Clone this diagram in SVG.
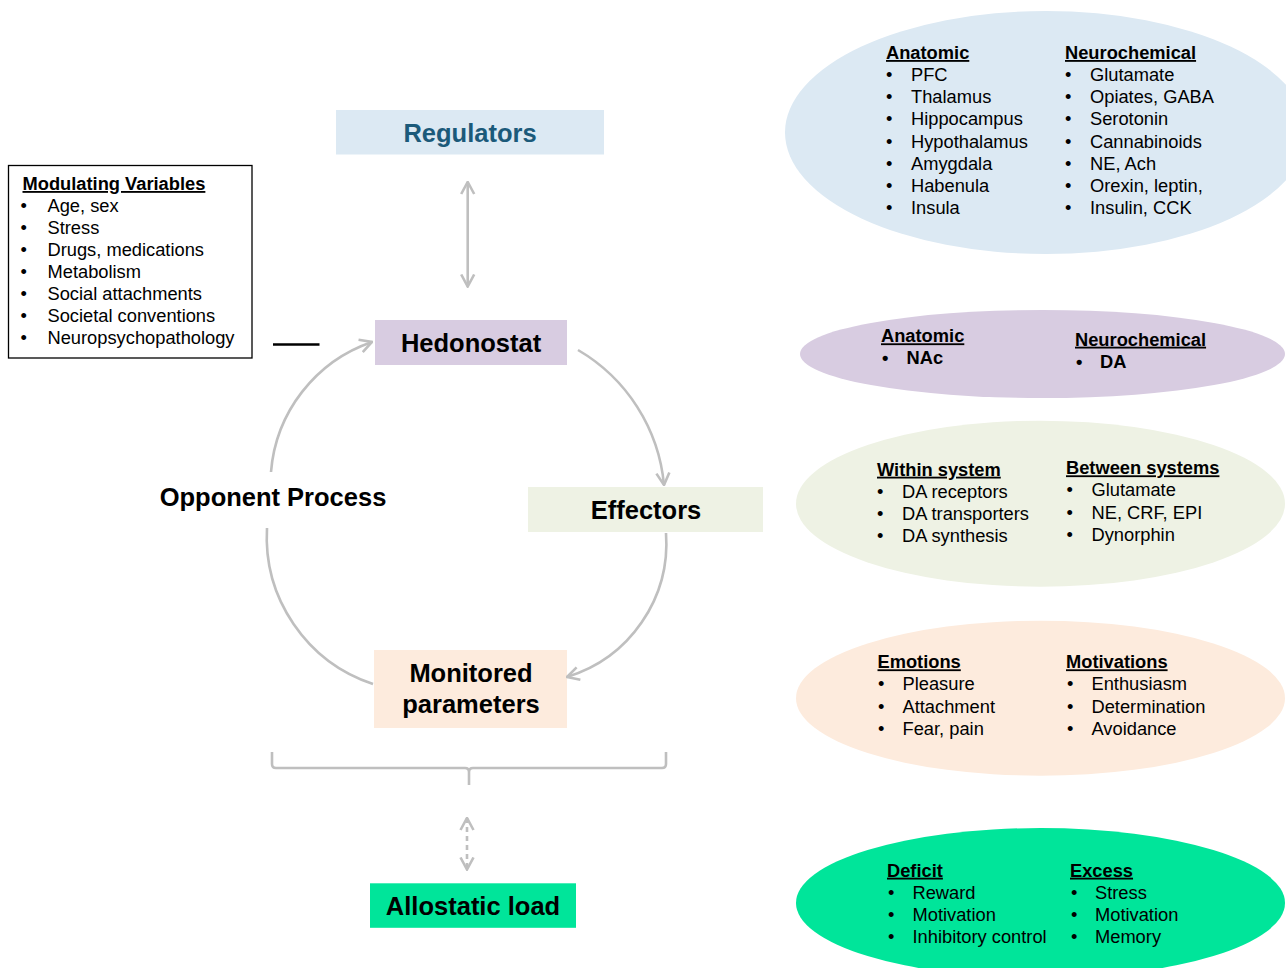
<svg xmlns="http://www.w3.org/2000/svg" width="1286" height="968" viewBox="0 0 1286 968">
<style>
text{font-family:"Liberation Sans",Arial,sans-serif;fill:#000}
.big{font-size:25.5px;font-weight:bold;text-anchor:middle}
.hd{font-size:18.3px;font-weight:bold;text-decoration:underline}
.it{font-size:18.3px}
.itb{font-size:18.3px;font-weight:bold}
.conn{fill:none;stroke:#BFBFBF;stroke-width:2.6}
</style>
<defs>
<marker id="ah" viewBox="0 0 14 16" refX="13" refY="8" markerWidth="14" markerHeight="16" markerUnits="userSpaceOnUse" orient="auto-start-reverse">
<path d="M1,1.5 L13,8 L1,14.5" fill="none" stroke="#BFBFBF" stroke-width="2.6"/>
</marker>
</defs>
<rect width="1286" height="968" fill="#fff"/>

<g id="ellipse-regulators">
<ellipse cx="1046" cy="132.5" rx="261" ry="121.5" fill="#DCE9F3"/>
<text class="hd" x="886" y="59">Anatomic</text>
<text class="it" x="886" y="81">•</text><text class="it" x="911" y="81">PFC</text>
<text class="it" x="886" y="103.2">•</text><text class="it" x="911" y="103.2">Thalamus</text>
<text class="it" x="886" y="125.4">•</text><text class="it" x="911" y="125.4">Hippocampus</text>
<text class="it" x="886" y="147.6">•</text><text class="it" x="911" y="147.6">Hypothalamus</text>
<text class="it" x="886" y="169.8">•</text><text class="it" x="911" y="169.8">Amygdala</text>
<text class="it" x="886" y="192">•</text><text class="it" x="911" y="192">Habenula</text>
<text class="it" x="886" y="214.2">•</text><text class="it" x="911" y="214.2">Insula</text>
<text class="hd" x="1065" y="59">Neurochemical</text>
<text class="it" x="1065" y="81">•</text><text class="it" x="1090" y="81">Glutamate</text>
<text class="it" x="1065" y="103.2">•</text><text class="it" x="1090" y="103.2">Opiates, GABA</text>
<text class="it" x="1065" y="125.4">•</text><text class="it" x="1090" y="125.4">Serotonin</text>
<text class="it" x="1065" y="147.6">•</text><text class="it" x="1090" y="147.6">Cannabinoids</text>
<text class="it" x="1065" y="169.8">•</text><text class="it" x="1090" y="169.8">NE, Ach</text>
<text class="it" x="1065" y="192">•</text><text class="it" x="1090" y="192">Orexin, leptin,</text>
<text class="it" x="1065" y="214.2">•</text><text class="it" x="1090" y="214.2">Insulin, CCK</text>
</g>

<g id="ellipse-hedonostat">
<ellipse cx="1042.5" cy="354" rx="242.5" ry="44" fill="#D8CCE1"/>
<text class="hd" x="881" y="342.3">Anatomic</text>
<text class="itb" x="882" y="364.3">•</text><text class="itb" x="906.5" y="364.3">NAc</text>
<text class="hd" x="1075" y="345.7">Neurochemical</text>
<text class="itb" x="1076" y="367.7">•</text><text class="itb" x="1100" y="367.7">DA</text>
</g>

<g id="ellipse-effectors">
<ellipse cx="1040.5" cy="503.7" rx="244.5" ry="83" fill="#EEF2E4"/>
<text class="hd" x="877" y="475.7">Within system</text>
<text class="it" x="877" y="497.7">•</text><text class="it" x="902" y="497.7">DA receptors</text>
<text class="it" x="877" y="519.9">•</text><text class="it" x="902" y="519.9">DA transporters</text>
<text class="it" x="877" y="542.1">•</text><text class="it" x="902" y="542.1">DA synthesis</text>
<text class="hd" x="1066" y="474.3">Between systems</text>
<text class="it" x="1066.5" y="496.3">•</text><text class="it" x="1091.5" y="496.3">Glutamate</text>
<text class="it" x="1066.5" y="518.5">•</text><text class="it" x="1091.5" y="518.5">NE, CRF, EPI</text>
<text class="it" x="1066.5" y="540.7">•</text><text class="it" x="1091.5" y="540.7">Dynorphin</text>
</g>

<g id="ellipse-monitored">
<ellipse cx="1040.5" cy="698.2" rx="244.5" ry="77.5" fill="#FDEBDD"/>
<text class="hd" x="877.5" y="668.3">Emotions</text>
<text class="it" x="878" y="690.3">•</text><text class="it" x="902.5" y="690.3">Pleasure</text>
<text class="it" x="878" y="712.5">•</text><text class="it" x="902.5" y="712.5">Attachment</text>
<text class="it" x="878" y="734.7">•</text><text class="it" x="902.5" y="734.7">Fear, pain</text>
<text class="hd" x="1066" y="668.3">Motivations</text>
<text class="it" x="1067" y="690.3">•</text><text class="it" x="1091.5" y="690.3">Enthusiasm</text>
<text class="it" x="1067" y="712.5">•</text><text class="it" x="1091.5" y="712.5">Determination</text>
<text class="it" x="1067" y="734.7">•</text><text class="it" x="1091.5" y="734.7">Avoidance</text>
</g>

<g id="ellipse-allostatic">
<ellipse cx="1040.5" cy="903" rx="244.5" ry="75" fill="#00E59A"/>
<text class="hd" x="887" y="876.7">Deficit</text>
<text class="it" x="888" y="898.7">•</text><text class="it" x="912.5" y="898.7">Reward</text>
<text class="it" x="888" y="920.9">•</text><text class="it" x="912.5" y="920.9">Motivation</text>
<text class="it" x="888" y="943.1">•</text><text class="it" x="912.5" y="943.1">Inhibitory control</text>
<text class="hd" x="1070" y="876.7">Excess</text>
<text class="it" x="1071" y="898.7">•</text><text class="it" x="1095" y="898.7">Stress</text>
<text class="it" x="1071" y="920.9">•</text><text class="it" x="1095" y="920.9">Motivation</text>
<text class="it" x="1071" y="943.1">•</text><text class="it" x="1095" y="943.1">Memory</text>
</g>

<g id="modulating-variables">
<rect x="8.5" y="165.5" width="243.5" height="192.5" fill="#fff" stroke="#000" stroke-width="1.3"/>
<text class="hd" x="22.5" y="190">Modulating Variables</text>
<text class="it" x="20.5" y="211.7">•</text><text class="it" x="47.5" y="211.7">Age, sex</text>
<text class="it" x="20.5" y="233.8">•</text><text class="it" x="47.5" y="233.8">Stress</text>
<text class="it" x="20.5" y="255.9">•</text><text class="it" x="47.5" y="255.9">Drugs, medications</text>
<text class="it" x="20.5" y="278">•</text><text class="it" x="47.5" y="278">Metabolism</text>
<text class="it" x="20.5" y="300.1">•</text><text class="it" x="47.5" y="300.1">Social attachments</text>
<text class="it" x="20.5" y="322.2">•</text><text class="it" x="47.5" y="322.2">Societal conventions</text>
<text class="it" x="20.5" y="344.3">•</text><text class="it" x="47.5" y="344.3">Neuropsychopathology</text>
</g>

<g id="regulators">
<rect x="336" y="110" width="268" height="44.5" fill="#DCE9F3"/>
<text class="big" x="470" y="141.5" style="fill:#1B5A7A">Regulators</text>
</g>

<g id="hedonostat">
<rect x="375" y="320" width="192" height="45" fill="#D8CCE1"/>
<text class="big" x="471" y="352">Hedonostat</text>
</g>

<g id="effectors">
<rect x="528" y="487" width="235" height="45" fill="#EEF2E4"/>
<text class="big" x="646" y="519">Effectors</text>
</g>

<g id="monitored-parameters">
<rect x="374" y="650" width="193" height="78" fill="#FDEBDD"/>
<text class="big" x="471" y="682.3">Monitored</text>
<text class="big" x="471" y="713.3">parameters</text>
</g>

<g id="allostatic-load">
<rect x="370" y="883.3" width="206" height="44.5" fill="#00E59A"/>
<text class="big" x="473" y="915">Allostatic load</text>
</g>

<g id="opponent-process">
<text class="big" x="273" y="506">Opponent Process</text>
</g>

<g id="connectors">
<line x1="273" y1="344.5" x2="319.5" y2="344.5" stroke="#000" stroke-width="2.3"/>
<line class="conn" x1="467.7" y1="182" x2="467.7" y2="286.5" marker-start="url(#ah)" marker-end="url(#ah)"/>
<path class="conn" d="M271,472 A150,150 0 0,1 372,342" marker-end="url(#ah)"/>
<path class="conn" d="M578,350 A175,175 0 0,1 664,485" marker-end="url(#ah)"/>
<path class="conn" d="M666,533 A140,140 0 0,1 567,677" marker-end="url(#ah)"/>
<path class="conn" d="M267,528 A155,155 0 0,0 373,684"/>
<path class="conn" d="M272,752 V764 Q272,768 276,768 H465 Q469,768 469,772 V785 M469,772 Q469,768 473,768 H662 Q666,768 666,764 V752"/>
<line class="conn" x1="467" y1="818" x2="467" y2="869.5" stroke-dasharray="5,4" marker-start="url(#ah)" marker-end="url(#ah)"/>
</g>
</svg>
